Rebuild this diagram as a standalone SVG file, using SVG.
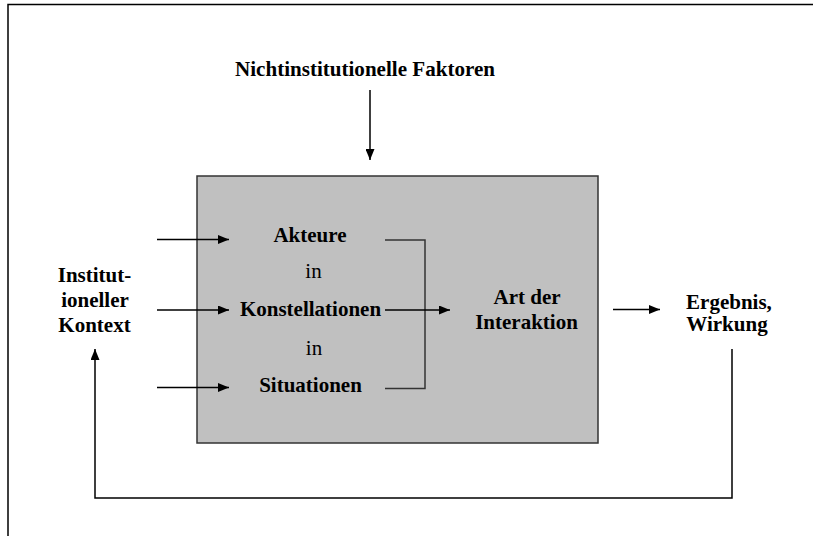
<svg xmlns="http://www.w3.org/2000/svg" width="813" height="536" viewBox="0 0 813 536">
<style>
.t{font-family:"Liberation Serif","Times New Roman",serif;font-size:21px;font-weight:bold;fill:#000;text-anchor:middle}
.r{font-weight:normal}
.ln{stroke:#000;stroke-width:1.5;fill:none}
.br{stroke:#333;stroke-width:1.5;fill:none}
</style>
<defs>
<marker id="ah" viewBox="0 0 11 9" refX="11" refY="4.5" markerWidth="11" markerHeight="9" markerUnits="userSpaceOnUse" orient="auto">
<path d="M0,0 L11,4.5 L0,9 Z" fill="#000"/>
</marker>
</defs>
<g id="frame">
<path d="M8,536 V4.5 H813" class="ln"/>
</g>
<g id="box">
<rect x="197" y="176" width="401" height="267" fill="#c0c0c0" stroke="#333" stroke-width="1.5"/>
</g>
<g id="heading"><text class="t" x="365" y="76" textLength="260" lengthAdjust="spacingAndGlyphs">Nichtinstitutionelle Faktoren</text></g>
<g id="akteure"><text class="t" x="310" y="242">Akteure</text></g>
<g id="in1"><text class="t r" x="313.5" y="278">in</text></g>
<g id="konstellationen"><text class="t" x="310.5" y="316">Konstellationen</text></g>
<g id="in2"><text class="t r" x="314" y="355">in</text></g>
<g id="situationen"><text class="t" x="310.5" y="392">Situationen</text></g>
<g id="interaktion"><text class="t" x="527" y="304">Art der</text><text class="t" x="526.5" y="329">Interaktion</text></g>
<g id="kontext"><text class="t" x="94.5" y="282">Institut-</text><text class="t" x="95" y="307">ioneller</text><text class="t" x="94.5" y="332">Kontext</text></g>
<g id="ergebnis"><text class="t" x="729" y="309">Ergebnis,</text><text class="t" x="727" y="331">Wirkung</text></g>
<g id="connectors">
<line x1="370" y1="90" x2="370" y2="160" class="ln" marker-end="url(#ah)"/>
<line x1="157" y1="239.5" x2="229" y2="239.5" class="ln" marker-end="url(#ah)"/>
<line x1="157" y1="310" x2="229" y2="310" class="ln" marker-end="url(#ah)"/>
<line x1="157" y1="387.5" x2="229" y2="387.5" class="ln" marker-end="url(#ah)"/>
<path d="M385,240 H425 V388.5 H385" class="br"/>
<line x1="385" y1="310" x2="450" y2="310" class="ln" marker-end="url(#ah)"/>
<line x1="613" y1="309.5" x2="660" y2="309.5" class="ln" marker-end="url(#ah)"/>
<path d="M732,349 V498 H95 V349" class="ln" marker-end="url(#ah)"/>
</g>
</svg>
